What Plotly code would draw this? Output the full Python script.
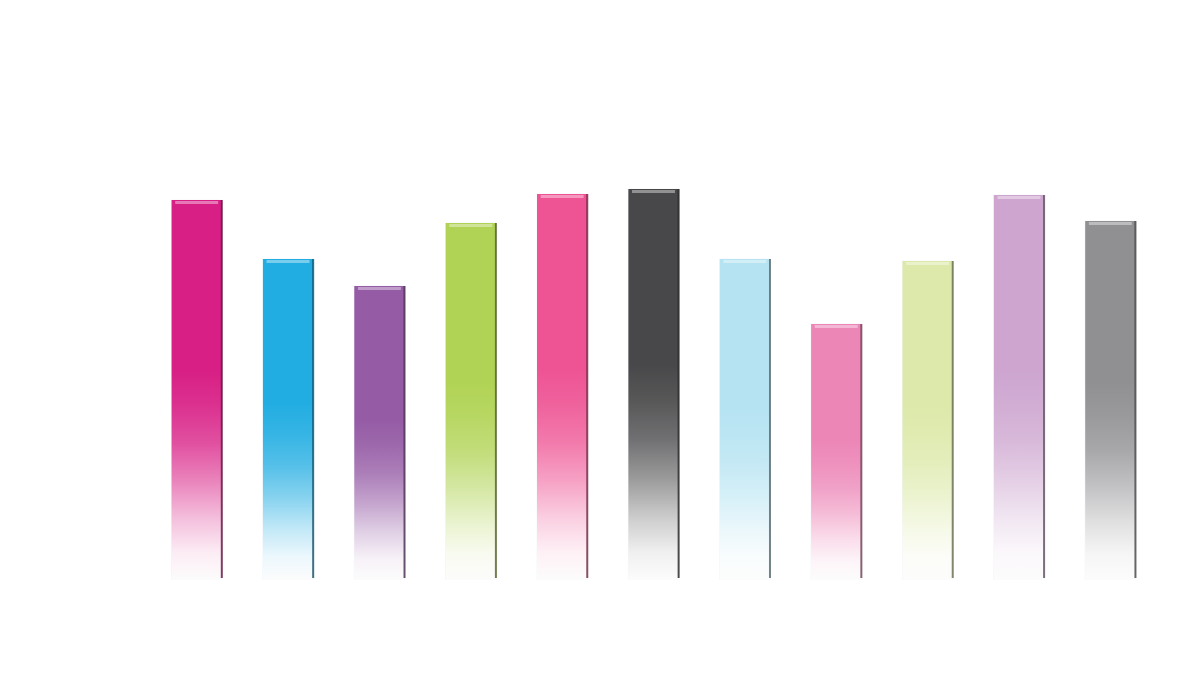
import plotly.graph_objects as go

# bar data
categories = ["A", "B", "C", "D", "E", "F", "G", "H", "I", "J", "K"]
values = [380, 321, 294, 357, 386, 391, 321, 256, 319, 385, 359]
colors = ["#D81F85", "#22ADE2", "#955BA5", "#B1D355", "#EE5393", "#48484A",
          "#B5E3F2", "#EC86B7", "#DDE9AA", "#CDA5CF", "#909093"]


def mix(hex_color, amount, to=255):
    # blend a colour towards white (or black with to=0)
    r, g, b = (int(hex_color[i:i + 2], 16) for i in (1, 3, 5))
    r = round(r + (to - r) * amount)
    g = round(g + (to - g) * amount)
    b = round(b + (to - b) * amount)
    return f"rgb({r},{g},{b})"


half = 0.275
traces = []
for i, (cat, val, col) in enumerate(zip(categories, values, colors)):
    x0, x1 = i - half, i + half
    # bar body with a vertical fade to white at the bottom
    traces.append(go.Scatter(
        x=[x0, x1, x1, x0, x0], y=[0, 0, val, val, 0],
        mode="lines", fill="toself", line=dict(width=0),
        fillgradient=dict(type="vertical", start=0, stop=val,
                          colorscale=[[0, "rgb(252,252,252)"], [0.07, mix(col, 0.92)],
                                      [0.16, mix(col, 0.72)], [0.26, mix(col, 0.45)],
                                      [0.36, mix(col, 0.22)], [0.46, mix(col, 0.08)],
                                      [0.55, col], [1, col]]),
        hoverinfo="skip", showlegend=False))
    # dark right edge
    traces.append(go.Scatter(
        x=[x1, x1], y=[2, val], mode="lines",
        line=dict(color=mix(col, 0.55, to=0), width=2),
        opacity=0.8, hoverinfo="skip", showlegend=False))
    # light bevel on top
    traces.append(go.Scatter(
        x=[x0 + 0.04, x1 - 0.04], y=[val - 2.5, val - 2.5], mode="lines",
        line=dict(color="rgba(255,255,255,0.4)", width=3),
        hoverinfo="skip", showlegend=False))
    # hover point
    traces.append(go.Bar(x=[i], y=[val], width=2 * half, name=cat,
                         marker=dict(color="rgba(0,0,0,0)"), showlegend=False))

fig = go.Figure(data=traces)
fig.update_layout(
    width=1200, height=700,
    margin=dict(l=143, r=52, t=72, b=128),
    paper_bgcolor="white", plot_bgcolor="white",
    xaxis=dict(range=[-0.5, 10.5], visible=False),
    yaxis=dict(range=[0, 500], visible=False),
)

fig.write_html("out.html")
